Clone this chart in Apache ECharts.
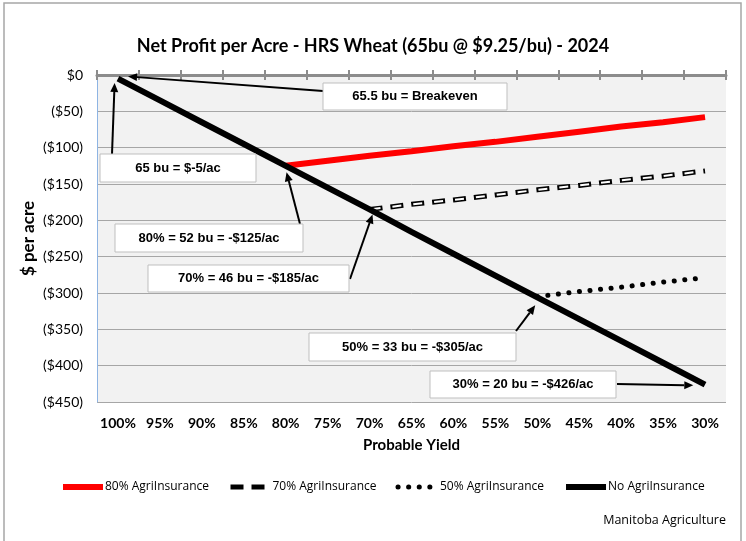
<!DOCTYPE html>
<html>
<head>
<meta charset="utf-8">
<script src="https://cdn.jsdelivr.net/npm/echarts@6/dist/echarts.min.js"></script>
<style>
  html, body { margin: 0; padding: 0; background: #fff; }
  #chart { width: 746px; height: 541px; }
</style>
</head>
<body>
<div id="chart"></div>
<script>
// probable yield (% of 65 bu)
const categories = ['100%', '95%', '90%', '85%', '80%', '75%', '70%', '65%', '60%', '55%', '50%', '45%', '40%', '35%', '30%'];
const yTicks = [0, -50, -100, -150, -200, -250, -300, -350, -400, -450];

// $ per acre
const noInsurance = [-5, -35, -65, -95, -125, -155, -185, -216, -246, -276, -306, -336, -366, -396, -426];
const ins80 = [null, null, null, null, -125, -118, -111, -105, -98, -92, -85, -78, -71, -65, -58];
const ins70 = [null, null, null, null, null, null, -185, -178, -172, -165, -158, -152, -145, -139, -132];
const ins50 = [null, null, null, null, null, null, null, null, null, null, -305, -298, -292, -285, -279];

// call-outs: text, box [x, y, w, h], arrow tail (px), arrow tip [category index, value]
const notes = [
  { text: '65.5 bu = Breakeven',      box: [323, 83, 184, 27],  tail: [323, 91],  tip: [0.24, -2] },
  { text: '65 bu = $-5/ac',           box: [100, 154, 156, 28], tail: [112, 154], tip: [-0.08, -11] },
  { text: '80% = 52 bu = -$125/ac',   box: [115, 224, 188, 28], tail: [300, 224], tip: [4.02, -134] },
  { text: '70% = 46 bu = -$185/ac',   box: [148, 265, 201, 27], tail: [350, 279], tip: [6.07, -192] },
  { text: '50% = 33 bu = -$305/ac',   box: [309, 333, 207, 28], tail: [516, 331], tip: [9.95, -317] },
  { text: '30% = 20 bu = -$426/ac',   box: [430, 371, 186, 27], tail: [617, 384], tip: [13.72, -427] }
];

const FONT = 'Lato, "Open Sans", sans-serif';
const FONT2 = '"Open Sans", Lato, sans-serif';

const chart = echarts.init(document.getElementById('chart'));

function money(v) {
  if (v === 0) return '$0';
  return '($' + Math.abs(v) + ')';
}

chart.setOption({
  animation: false,
  title: {
    text: 'Net Profit per Acre - HRS Wheat (65bu @ $9.25/bu) - 2024',
    left: 'center',
    top: 32,
    textStyle: { fontFamily: FONT, fontSize: 18, fontWeight: 'bold', color: '#000' }
  },
  legend: {
    data: ['80% AgriInsurance', '70% AgriInsurance', '50% AgriInsurance', 'No AgriInsurance'],
    left: 55,
    top: 476,
    itemWidth: 40,
    itemHeight: 14,
    itemGap: 19,
    itemStyle: { color: 'rgba(0,0,0,0)', borderColor: 'rgba(0,0,0,0)', borderWidth: 0 },
    lineStyle: { width: 'inherit' },
    textStyle: { fontFamily: FONT2, fontSize: 12, color: '#000', padding: [0, 0, 0, -3] }
  },
  grid: {
    left: 97, right: 20, top: 75, bottom: 139,
    show: true, backgroundColor: '#f2f2f2', borderWidth: 0
  },
  xAxis: [
    {
      type: 'category',
      data: categories,
      position: 'bottom',
      boundaryGap: true,
      name: 'Probable Yield',
      nameLocation: 'middle',
      nameGap: 36,
      nameTextStyle: { fontFamily: FONT, fontSize: 15, fontWeight: 'bold', color: '#000' },
      axisLine: { show: false },
      axisTick: { show: false },
      axisLabel: { interval: 0, fontFamily: FONT, fontSize: 14, fontWeight: 'bold', color: '#000', margin: 14 }
    },
    {
      type: 'category',
      data: categories,
      position: 'top',
      boundaryGap: true,
      axisLine: { show: true, lineStyle: { color: '#8c8c8c', width: 3 } },
      axisTick: { show: true, interval: 0, inside: false, length: 5, lineStyle: { color: '#8c8c8c', width: 2 } },
      axisLabel: { show: false }
    },
    {
      type: 'category',
      data: categories,
      position: 'top',
      boundaryGap: true,
      axisLine: { show: false },
      axisTick: { show: true, interval: 0, inside: true, length: 5, lineStyle: { color: '#8c8c8c', width: 2 } },
      axisLabel: { show: false }
    }
  ],
  yAxis: {
    type: 'value',
    min: yTicks[yTicks.length - 1],
    max: yTicks[0],
    interval: 50,
    name: '$ per acre',
    nameLocation: 'middle',
    nameGap: 60,
    nameMoveOverlap: false,
    nameTextStyle: { fontFamily: FONT, fontSize: 17, fontWeight: 'bold', color: '#000' },
    axisLine: { show: true, lineStyle: { color: '#8eb4e3', width: 1 } },
    axisTick: { show: false },
    splitLine: { lineStyle: { color: '#a6a6a6', width: 1 } },
    axisLabel: { fontFamily: FONT, fontSize: 14, color: '#000', margin: 14, formatter: money }
  },
  series: [
    {
      name: '80% AgriInsurance', type: 'line', data: ins80, symbol: 'none', z: 3,
      lineStyle: { color: '#ff0000', width: 6 }, itemStyle: { color: '#ff0000' }
    },
    {
      name: '70% AgriInsurance', type: 'line', data: ins70, symbol: 'none', z: 3,
      lineStyle: { color: '#000', width: 5, type: [13, 8] }, itemStyle: { color: '#000' }
    },
    {
      name: '70% inner', type: 'line', data: ins70, symbol: 'none', z: 4,
      lineStyle: { color: '#fff', width: 2, type: [9, 12], dashOffset: -2 }
    },
    {
      name: '50% AgriInsurance', type: 'line', data: ins50, symbol: 'none', z: 3,
      lineStyle: { color: '#000', width: 5, type: [0.1, 10.5], cap: 'round' }, itemStyle: { color: '#000' }
    },
    {
      name: 'No AgriInsurance', type: 'line', data: noInsurance, symbol: 'none', z: 5,
      lineStyle: { color: '#000', width: 6 }, itemStyle: { color: '#000' }
    }
  ]
});

// call-out boxes and arrows, tips placed through the chart's own axes
function toPixel(idx, val) {
  const p0 = chart.convertToPixel({ xAxisIndex: 0, yAxisIndex: 0 }, [0, val]);
  const p1 = chart.convertToPixel({ xAxisIndex: 0, yAxisIndex: 0 }, [1, val]);
  return [p0[0] + idx * (p1[0] - p0[0]), p0[1]];
}

const graphics = [];
graphics.push({
  type: 'rect', silent: true, z: 0,
  shape: { x: 4, y: 3, width: 737, height: 548 },
  style: { fill: 'none', stroke: '#a6a6a6', lineWidth: 1.5 }
});
graphics.push({
  type: 'text', right: 20, top: 514,
  style: { text: 'Manitoba Agriculture', font: '12.5px ' + FONT2, fill: '#000' }
});

notes.forEach(function (n) {
  const tip = toPixel(n.tip[0], n.tip[1]);
  const tail = n.tail;
  const dx = tip[0] - tail[0], dy = tip[1] - tail[1];
  const len = Math.sqrt(dx * dx + dy * dy);
  const ux = dx / len, uy = dy / len;
  const headLen = 9, headW = 4;
  const bx = tip[0] - ux * headLen, by = tip[1] - uy * headLen;
  graphics.push({
    type: 'line', silent: true, z: 10,
    shape: { x1: tail[0], y1: tail[1], x2: bx, y2: by },
    style: { stroke: '#000', lineWidth: 2 }
  });
  graphics.push({
    type: 'polygon', silent: true, z: 10,
    shape: { points: [tip, [bx - uy * headW, by + ux * headW], [bx + uy * headW, by - ux * headW]] },
    style: { fill: '#000' }
  });
  graphics.push({
    type: 'rect', silent: true, z: 11,
    shape: { x: n.box[0], y: n.box[1], width: n.box[2], height: n.box[3] },
    style: { fill: '#fff', stroke: '#bfbfbf', lineWidth: 1 }
  });
  graphics.push({
    type: 'text', silent: true, z: 12,
    x: n.box[0] + n.box[2] / 2, y: n.box[1] + n.box[3] / 2,
    style: {
      text: n.text, font: 'bold 13px "Liberation Sans", Arial, sans-serif', fill: '#000',
      align: 'center', verticalAlign: 'middle'
    }
  });
});

chart.setOption({ graphic: graphics });
</script>
</body>
</html>
